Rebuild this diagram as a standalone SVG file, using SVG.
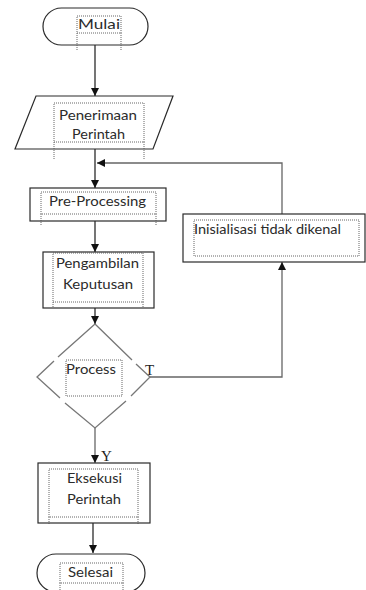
<svg xmlns="http://www.w3.org/2000/svg" width="366" height="590" viewBox="0 0 366 590">
<defs>
<style>
.shape{fill:#fff;stroke:#2a2a2a;stroke-width:1.2}
.grey{fill:none;stroke:#777;stroke-width:1.3}
.frame{fill:none;stroke:#555;stroke-width:0.9;stroke-dasharray:1 1}
.lbl{font-family:Lato,"Open Sans","Noto Sans",sans-serif;font-size:13.5px;fill:#2b2b2b;text-anchor:middle}
.ser{font-family:"Liberation Serif","DejaVu Serif",serif;font-size:15px;fill:#222}
.conn{fill:none;stroke:#1a1a1a;stroke-width:1.2}
.connG{fill:none;stroke:#666;stroke-width:1.3}
</style>
<marker id="ah" viewBox="0 0 10 10" refX="10" refY="5" markerWidth="8" markerHeight="8" markerUnits="userSpaceOnUse" orient="auto">
<path d="M0,0 L10,5 L0,10 z" fill="#111"/>
</marker>
</defs>
<rect width="366" height="590" fill="#fff"/>

<g id="connectors">
<line class="conn" x1="95" y1="45" x2="95" y2="96" marker-end="url(#ah)"/>
<line class="conn" x1="95" y1="149" x2="95" y2="188" marker-end="url(#ah)"/>
<polyline class="connG" points="282,214 282,163 97,163" marker-end="url(#ah)"/>
<line class="conn" x1="95" y1="221" x2="95" y2="252" marker-end="url(#ah)"/>
<line class="conn" x1="95" y1="308" x2="95" y2="324" marker-end="url(#ah)"/>
<line class="connG" x1="95" y1="428" x2="95" y2="463" marker-end="url(#ah)"/>
<polyline class="connG" points="150,377 282,377 282,262" marker-end="url(#ah)"/>
<line class="conn" x1="93" y1="523" x2="93" y2="553" marker-end="url(#ah)"/>
<text class="ser" x="145" y="375">T</text>
<text class="ser" x="101" y="461">Y</text>
</g>

<g id="mulai">
<rect class="shape" x="43" y="8" width="105" height="37" rx="18.5"/>
<rect class="frame" x="77" y="16" width="44" height="17"/>
<path class="frame" d="M77,33V50M121,33V50"/>
<text class="lbl" x="99" y="29" textLength="42" lengthAdjust="spacingAndGlyphs">Mulai</text>
</g>

<g id="penerimaan">
<polygon class="shape" points="36,96 173,96 153,149 15,149"/>
<rect class="frame" x="54" y="103" width="90" height="39"/>
<path class="frame" d="M54,142V160M144,142V160"/>
<text class="lbl" x="98" y="120" textLength="78" lengthAdjust="spacingAndGlyphs">Penerimaan</text>
<text class="lbl" x="98.5" y="139" textLength="53" lengthAdjust="spacingAndGlyphs">Perintah</text>
</g>

<g id="preprocessing">
<rect class="shape" x="30" y="188" width="136" height="33"/>
<rect class="frame" x="41" y="192" width="115" height="22"/>
<path class="frame" d="M41,214V226M156,214V226"/>
<text class="lbl" x="97.5" y="206" textLength="97" lengthAdjust="spacingAndGlyphs">Pre-Processing</text>
</g>

<g id="pengambilan">
<rect class="shape" x="43" y="252" width="111" height="56"/>
<rect class="frame" x="53" y="253" width="90" height="49"/>
<path class="frame" d="M53,302V308M143,302V308"/>
<text class="lbl" x="97.5" y="268" textLength="83" lengthAdjust="spacingAndGlyphs">Pengambilan</text>
<text class="lbl" x="98" y="289" textLength="70" lengthAdjust="spacingAndGlyphs">Keputusan</text>
</g>

<g id="process">
<path class="grey" d="M95,324 L58,357 M54,361 L37,377 L60,398 M65,403 L95,428 L126,401 M131,396 L150,377 L136,364 M132,360 L95,324"/>
<rect class="frame" x="66" y="360" width="56" height="36"/>
<text class="lbl" x="91" y="374" textLength="50" lengthAdjust="spacingAndGlyphs">Process</text>
</g>

<g id="inisialisasi">
<rect class="shape" x="183" y="214" width="182" height="48"/>
<rect class="frame" x="194" y="220" width="165" height="36"/>
<text class="lbl" x="267.5" y="234" textLength="147" lengthAdjust="spacingAndGlyphs">Inisialisasi tidak dikenal</text>
</g>

<g id="eksekusi">
<rect class="shape" x="38" y="463" width="112" height="60"/>
<rect class="frame" x="49" y="469" width="89" height="48"/>
<path class="frame" d="M49,517V525M138,517V525"/>
<text class="lbl" x="94.5" y="483" textLength="55" lengthAdjust="spacingAndGlyphs">Eksekusi</text>
<text class="lbl" x="94" y="504" textLength="54" lengthAdjust="spacingAndGlyphs">Perintah</text>
</g>

<g id="selesai">
<rect class="shape" x="37" y="554" width="108" height="38" rx="19"/>
<rect class="frame" x="60" y="563" width="63" height="20"/>
<path class="frame" d="M60,583V590M123,583V590"/>
<text class="lbl" x="90.5" y="577" textLength="45" lengthAdjust="spacingAndGlyphs">Selesai</text>
</g>
</svg>
